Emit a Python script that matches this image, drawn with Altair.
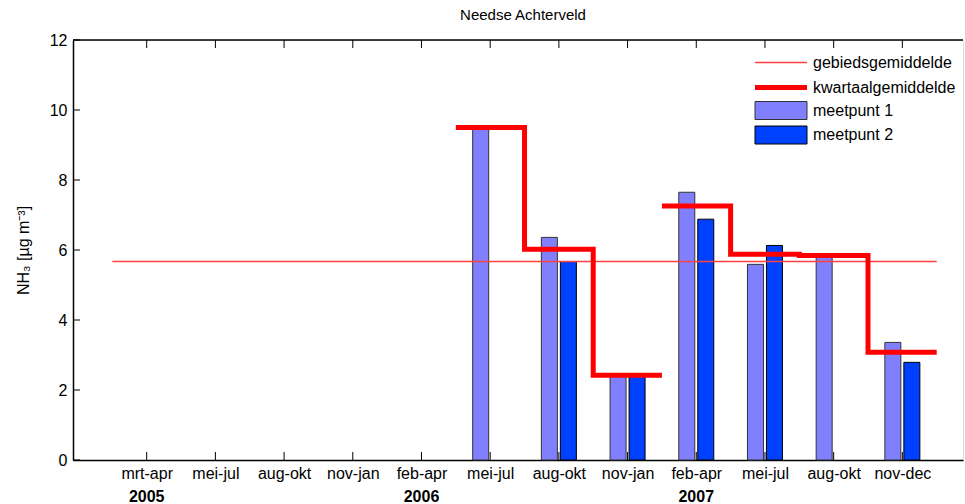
import json
import altair as alt
import pandas as pd

# ---------------- data ----------------
categories = ["mrt-apr", "mei-jul", "aug-okt", "nov-jan", "feb-apr", "mei-jul",
              "aug-okt", "nov-jan", "feb-apr", "mei-jul", "aug-okt", "nov-dec"]
cat_index = list(range(1, len(categories) + 1))
years = ["2005", "2006", "2007"]
year_at = [1, 5, 9]
meetpunt1 = [None, None, None, None, None, 9.5, 6.36, 2.42, 7.65, 5.59, 5.85, 3.36]
meetpunt2 = [None, None, None, None, None, None, 5.67, 2.42, 6.88, 6.13, None, 2.79]
kwartaal = [None, None, None, None, None, 9.5, 6.02, 2.42, 7.26, 5.88, 5.84, 3.08]
kwartaal_group = [None, None, None, None, None, "2006", "2006", "2006", "2007", "2007", "2007", "2007"]
gebied = 5.67
y_ticks = [0, 2, 4, 6, 8, 10, 12]
legend_labels = ["gebiedsgemiddelde", "kwartaalgemiddelde", "meetpunt 1", "meetpunt 2"]

FONT = "Liberation Sans"
FS = 16
W, H = 890, 420
C1, C2 = "#8080FF", "#0040FF"
THIN_RED = "#ff4040"

bars = pd.DataFrame({"i": cat_index, "m1": meetpunt1, "m2": meetpunt2})

step_rows = []
k = 0
for i, v, g in zip(cat_index, kwartaal, kwartaal_group):
    if v is None:
        continue
    step_rows.append({"x": i - 0.5, "v": v, "g": g, "o": k}); k += 1
    step_rows.append({"x": i + 0.5, "v": v, "g": g, "o": k}); k += 1
steps = pd.DataFrame(step_rows)

geb = pd.DataFrame({"x": [cat_index[0] - 0.5], "x2": [cat_index[-1] + 0.5], "v": [gebied]})
yrs = pd.DataFrame({"i": year_at, "t": years})
xt = pd.DataFrame({"i": cat_index})
yt = pd.DataFrame({"v": y_ticks})

xscale = alt.Scale(domain=[0, 12.81], nice=False, zero=False)
yscale = alt.Scale(domain=[0, 12], nice=False)

xaxis = alt.Axis(values=cat_index, labelExpr=f"{json.dumps(categories)}[datum.value - 1]",
                 grid=False, ticks=False, domain=True, domainColor="black", domainWidth=1.5,
                 labelFont=FONT, labelFontSize=FS, labelColor="black", labelPadding=5,
                 title=None)
yaxis = alt.Axis(values=y_ticks, grid=False, ticks=False, domain=True, domainColor="black",
                 domainWidth=1.5, labelFont=FONT, labelFontSize=FS, labelColor="black",
                 labelPadding=6, title="NH\u2083 [\u00b5g m\u207b\u00b3]", titleFont=FONT,
                 titleFontSize=FS, titleFontWeight="normal", titleColor="black",
                 titleX=-50, titleY=210, titleAngle=270, titleAlign="center",
                 titleBaseline="middle")

bar1 = alt.Chart(bars).mark_bar(size=16, xOffset=-9.5, color=C1, stroke="#333333",
                                strokeWidth=1).encode(
    x=alt.X("i:Q", scale=xscale, axis=xaxis),
    y=alt.Y("m1:Q", scale=yscale, axis=yaxis))
bar2 = alt.Chart(bars).mark_bar(size=16, xOffset=9.5, color=C2, stroke="black",
                                strokeWidth=1).encode(
    x=alt.X("i:Q", scale=xscale), y=alt.Y("m2:Q", scale=yscale))

geb_line = alt.Chart(geb).mark_rule(color=THIN_RED, strokeWidth=1.4).encode(
    x=alt.X("x:Q", scale=xscale), x2="x2:Q", y=alt.Y("v:Q", scale=yscale))

step_line = alt.Chart(steps).mark_line(color="#ff0000", strokeWidth=5, strokeJoin="miter",
                                       strokeCap="butt").encode(
    x=alt.X("x:Q", scale=xscale), y=alt.Y("v:Q", scale=yscale), detail="g:N", order="o:Q")

# inward ticks (bottom, top, left) and top frame line
bot_ticks = alt.Chart(xt).mark_rule(color="black", strokeWidth=1).encode(
    x=alt.X("i:Q", scale=xscale), y=alt.value(H), y2=alt.value(H - 8))
top_ticks = alt.Chart(xt).mark_rule(color="black", strokeWidth=1).encode(
    x=alt.X("i:Q", scale=xscale), y=alt.value(0), y2=alt.value(8))
left_ticks = alt.Chart(yt).mark_rule(color="black", strokeWidth=1).encode(
    y=alt.Y("v:Q", scale=yscale), x=alt.value(0), x2=alt.value(7))
top_frame = alt.Chart(geb).mark_rule(color="black", strokeWidth=1.5).encode(
    x=alt.value(0), x2=alt.value(W), y=alt.value(0))

year_text = alt.Chart(yrs).mark_text(font=FONT, fontSize=FS, fontWeight="bold",
                                     baseline="middle", color="black").encode(
    x=alt.X("i:Q", scale=xscale), y=alt.value(H + 37), text="t:N")

# legend
LX0, LX1, LT = 682, 734, 740
rows_y = [22.5, 47.5, 70.5, 95]
leg = []
leg.append(alt.Chart(pd.DataFrame({"t": [legend_labels[0]]})).mark_rule(
    color=THIN_RED, strokeWidth=1.4).encode(x=alt.value(LX0), x2=alt.value(LX1), y=alt.value(rows_y[0])))
leg.append(alt.Chart(pd.DataFrame({"t": [legend_labels[1]]})).mark_rule(
    color="#ff0000", strokeWidth=5).encode(x=alt.value(LX0), x2=alt.value(LX1), y=alt.value(rows_y[1])))
leg.append(alt.Chart(pd.DataFrame({"t": [legend_labels[2]]})).mark_rect(
    color=C1, stroke="#333333", strokeWidth=1).encode(
    x=alt.value(LX0), x2=alt.value(LX1), y=alt.value(rows_y[2] - 9), y2=alt.value(rows_y[2] + 9)))
leg.append(alt.Chart(pd.DataFrame({"t": [legend_labels[3]]})).mark_rect(
    color=C2, stroke="black", strokeWidth=1).encode(
    x=alt.value(LX0), x2=alt.value(LX1), y=alt.value(rows_y[3] - 9), y2=alt.value(rows_y[3] + 9)))
for lab, ry in zip(legend_labels, rows_y):
    leg.append(alt.Chart(pd.DataFrame({"t": [lab]})).mark_text(
        font=FONT, fontSize=FS, align="left", baseline="middle", color="black").encode(
        x=alt.value(LT), y=alt.value(ry), text="t:N"))

chart = alt.layer(bar1, bar2, geb_line, step_line, bot_ticks, top_ticks, left_ticks,
                  top_frame, year_text, *leg).properties(
    width=W, height=H,
    title=alt.Title("Needse Achterveld", font=FONT, fontSize=15, fontWeight="normal",
                    color="black", anchor="middle", offset=9, dx=5),
    autosize=alt.AutoSizeParams(type="none"),
    padding={"left": 73, "top": 40, "right": 2, "bottom": 44},
).configure_view(stroke=None).configure(background="white")

chart.save("out.html", embed_options={"renderer": "svg", "actions": False})
